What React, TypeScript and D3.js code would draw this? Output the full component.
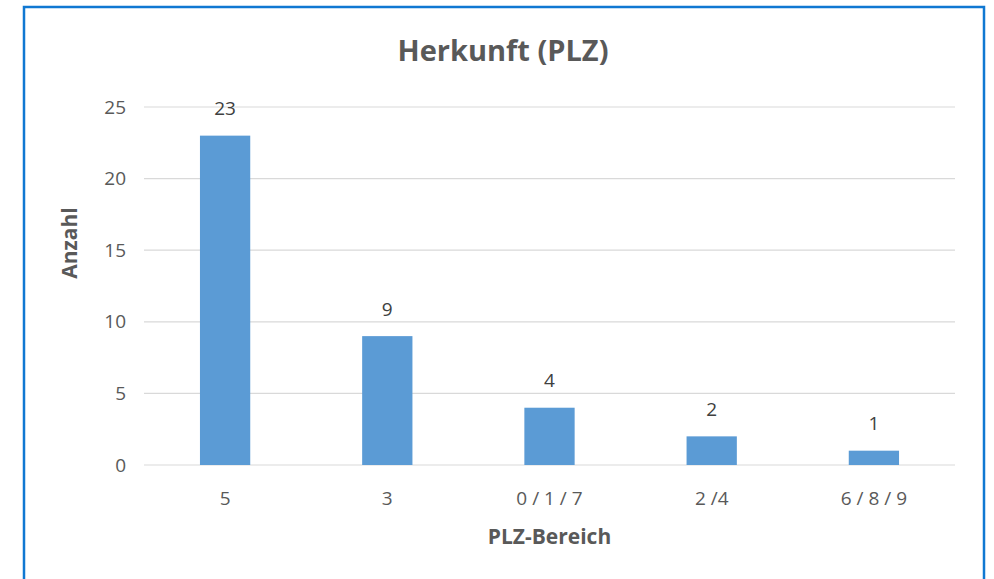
import * as d3 from "d3";
import React, { useEffect, useRef } from "react";

const categories = ["5", "3", "0 / 1 / 7", "2 /4", "6 / 8 / 9"];
const counts = [23, 9, 4, 2, 1];
const yTicks = [0, 5, 10, 15, 20, 25];

const FONT = "'Open Sans', 'Noto Sans', sans-serif";

const App = () => {
  const ref = useRef<SVGSVGElement>(null);

  useEffect(() => {
    const width = 994;
    const height = 579;
    const margin = { top: 107, right: 39, bottom: 114, left: 144 };
    const innerW = width - margin.left - margin.right;
    const innerH = height - margin.top - margin.bottom;

    const svg = d3.select(ref.current);
    svg.selectAll("*").remove();

    svg.append("rect").attr("width", width).attr("height", height).attr("fill", "#fff");

    // frame
    svg
      .append("rect")
      .attr("x", 24)
      .attr("y", 7)
      .attr("width", 960)
      .attr("height", 600)
      .attr("fill", "none")
      .attr("stroke", "#1078d2")
      .attr("stroke-width", 2.5);

    const x = d3
      .scaleBand()
      .domain(categories)
      .range([0, innerW])
      .paddingInner(0.69)
      .paddingOuter(0.345);
    const y = d3.scaleLinear().domain([0, 25]).range([innerH, 0]);

    const g = svg.append("g").attr("transform", `translate(${margin.left}, ${margin.top})`);

    // grid
    g.selectAll(".grid")
      .data(yTicks)
      .enter()
      .append("line")
      .attr("x1", 0)
      .attr("x2", innerW)
      .attr("y1", (d) => y(d))
      .attr("y2", (d) => y(d))
      .attr("stroke", "#d9d9d9")
      .attr("stroke-width", 1.2);

    // y tick labels
    g.selectAll(".ytick")
      .data(yTicks)
      .enter()
      .append("text")
      .attr("x", -18)
      .attr("y", (d) => y(d))
      .attr("dy", "0.35em")
      .attr("text-anchor", "end")
      .style("font-family", FONT)
      .style("font-size", "19px")
      .style("fill", "#595959")
      .text((d) => d);

    // bars
    g.selectAll(".bar")
      .data(counts)
      .enter()
      .append("rect")
      .attr("x", (d, i) => x(categories[i]) as number)
      .attr("y", (d) => y(d))
      .attr("width", x.bandwidth())
      .attr("height", (d) => innerH - y(d))
      .attr("fill", "#5b9bd5");

    // value labels
    g.selectAll(".val")
      .data(counts)
      .enter()
      .append("text")
      .attr("x", (d, i) => (x(categories[i]) as number) + x.bandwidth() / 2)
      .attr("y", (d) => y(d) - 27)
      .attr("dy", "0.35em")
      .attr("text-anchor", "middle")
      .style("font-family", FONT)
      .style("font-size", "19px")
      .style("fill", "#404040")
      .text((d) => d);

    // x tick labels
    g.selectAll(".xtick")
      .data(categories)
      .enter()
      .append("text")
      .attr("x", (d) => (x(d) as number) + x.bandwidth() / 2)
      .attr("y", innerH + 33)
      .attr("dy", "0.35em")
      .attr("text-anchor", "middle")
      .style("font-family", FONT)
      .style("font-size", "19px")
      .style("fill", "#595959")
      .text((d) => d);

    // title
    svg
      .append("text")
      .attr("x", 503)
      .attr("y", 51)
      .attr("dy", "0.35em")
      .attr("text-anchor", "middle")
      .style("font-family", FONT)
      .style("font-size", "29px")
      .style("font-weight", "bold")
      .style("fill", "#595959")
      .text("Herkunft (PLZ)");

    // x axis title
    svg
      .append("text")
      .attr("x", margin.left + innerW / 2)
      .attr("y", 537)
      .attr("dy", "0.35em")
      .attr("text-anchor", "middle")
      .style("font-family", FONT)
      .style("font-size", "21px")
      .style("font-weight", "bold")
      .style("fill", "#595959")
      .text("PLZ-Bereich");

    // y axis title
    svg
      .append("text")
      .attr("transform", `translate(70, ${margin.top + innerH / 2 - 43}) rotate(-90)`)
      .attr("dy", "0.35em")
      .attr("text-anchor", "middle")
      .style("font-family", FONT)
      .style("font-size", "21px")
      .style("font-weight", "bold")
      .style("fill", "#595959")
      .text("Anzahl");
  }, []);

  return (
    <svg
      ref={ref}
      width={994}
      height={579}
      style={{ position: "absolute", left: 0, top: 0, display: "block" }}
    />
  );
};

export default App;
